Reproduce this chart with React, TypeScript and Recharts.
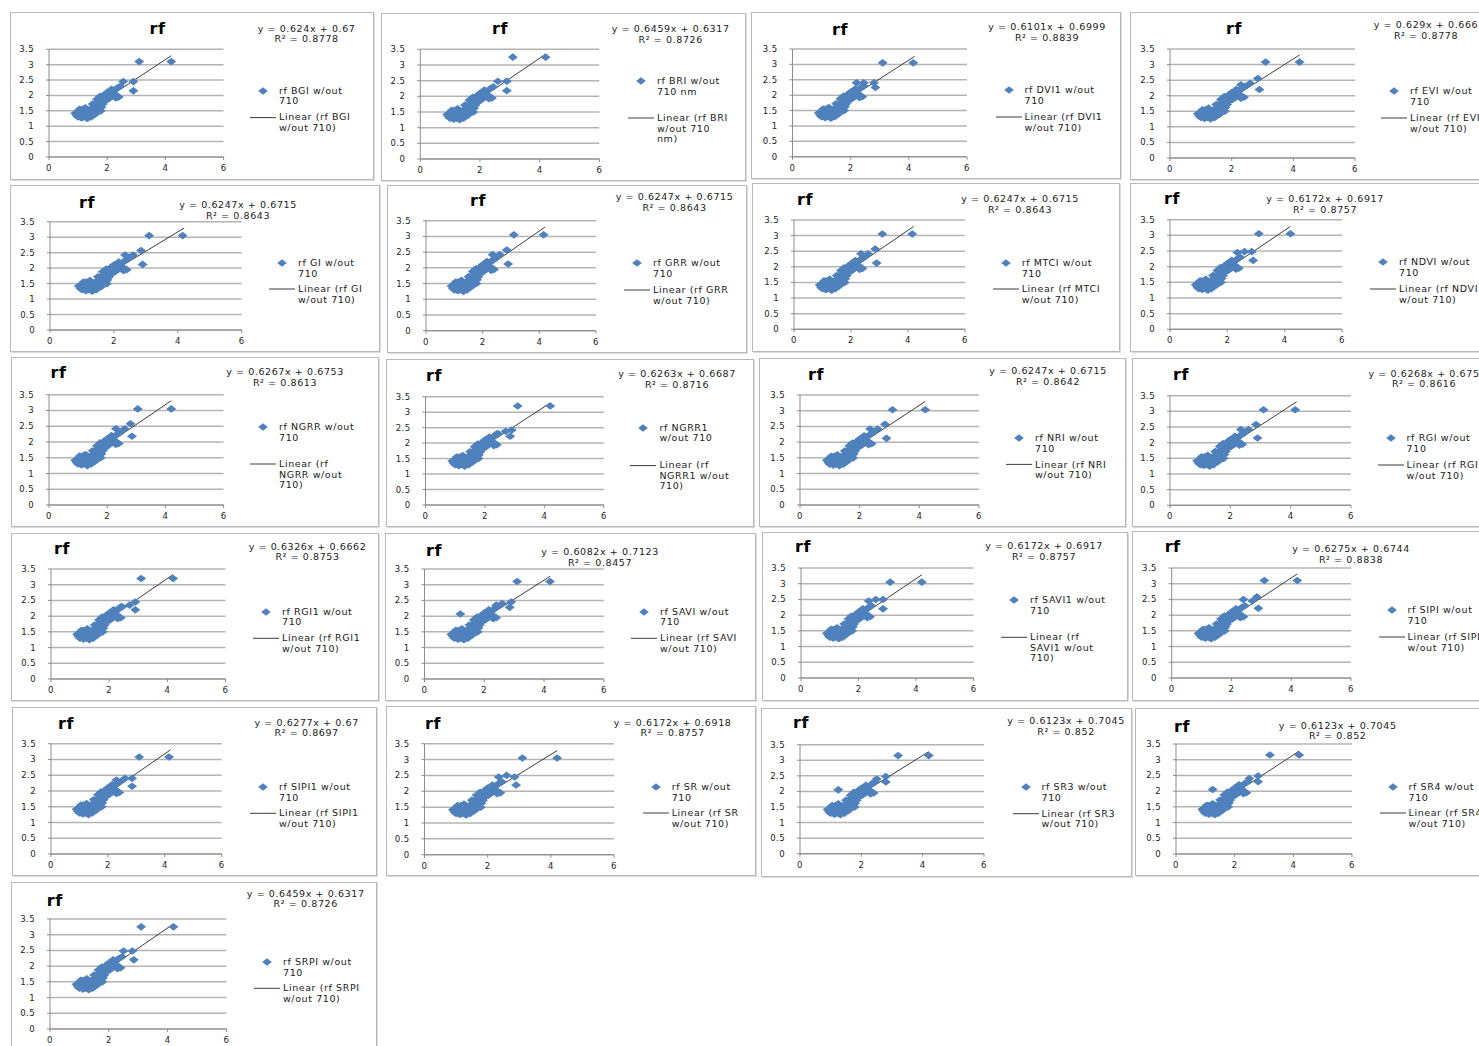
import { CartesianGrid, ReferenceLine, Scatter, ScatterChart, XAxis, YAxis } from 'recharts';

// index names, one per panel
const indexNames = [
  'BGI', 'BRI', 'DVI1', 'EVI', 'GI', 'GRR', 'MTCI', 'NDVI', 'NGRR', 'NGRR1', 'NRI',
  'RGI', 'RGI1', 'SAVI', 'SAVI1', 'SIPI', 'SIPI1', 'SR', 'SR3', 'SR4', 'SRPI',
];

// trendline equations shown on each panel
const slopes = [
  0.624, 0.6459, 0.6101, 0.629, 0.6247, 0.6247, 0.6247, 0.6172, 0.6267, 0.6263, 0.6247,
  0.6268, 0.6326, 0.6082, 0.6172, 0.6275, 0.6277, 0.6172, 0.6123, 0.6123, 0.6459,
];
const intercepts = [
  0.67, 0.6317, 0.6999, 0.666, 0.6715, 0.6715, 0.6715, 0.6917, 0.6753, 0.6687, 0.6715,
  0.675, 0.6662, 0.7123, 0.6917, 0.6744, 0.67, 0.6918, 0.7045, 0.7045, 0.6317,
];
const rSquared = [
  0.8778, 0.8726, 0.8839, 0.8778, 0.8643, 0.8643, 0.8643, 0.8757, 0.8613, 0.8716, 0.8642,
  0.8616, 0.8753, 0.8457, 0.8757, 0.8838, 0.8697, 0.8757, 0.852, 0.852, 0.8726,
];

// trendline spans the x range of the data
const trendRange = [1.0, 4.2];

// the dense cluster, roughly the same on every panel
const basePoints = [
  [0.9, 1.42], [0.95, 1.35], [1.0, 1.3], [1.02, 1.47], [1.05, 1.55], [1.08, 1.38],
  [1.12, 1.27], [1.15, 1.33], [1.15, 1.55], [1.18, 1.42], [1.22, 1.3], [1.25, 1.6],
  [1.28, 1.45], [1.3, 1.55], [1.32, 1.25], [1.35, 1.37], [1.38, 1.45], [1.4, 1.52],
  [1.45, 1.3], [1.48, 1.45], [1.5, 1.72], [1.52, 1.62], [1.55, 1.5], [1.6, 1.4],
  [1.62, 1.7], [1.65, 1.88], [1.66, 1.58], [1.7, 1.8], [1.72, 1.65], [1.76, 1.97],
  [1.78, 1.5], [1.8, 1.62], [1.82, 1.88], [1.85, 1.72], [1.9, 2.02], [1.92, 1.82],
  [1.96, 1.95], [2.0, 2.1], [2.0, 1.98], [2.03, 1.88], [2.08, 2.05], [2.12, 1.95],
  [2.15, 2.2], [2.18, 2.0], [2.22, 2.15], [2.25, 2.05], [2.3, 1.92], [2.35, 2.25],
  [2.4, 1.95], [2.45, 2.3],
];

// the points that differ between panels
const extraPoints = [
  [[2.55, 2.45], [2.9, 2.45], [2.9, 2.15], [3.1, 3.1], [4.2, 3.1]],
  [[2.6, 2.48], [2.9, 2.48], [2.9, 2.18], [3.1, 3.25], [4.2, 3.25]],
  [[2.2, 2.4], [2.45, 2.4], [2.8, 2.4], [2.85, 2.25], [3.1, 3.05], [4.15, 3.05]],
  [[2.3, 2.35], [2.6, 2.4], [2.85, 2.55], [2.9, 2.2], [3.1, 3.08], [4.2, 3.08]],
  [[2.35, 2.42], [2.6, 2.42], [2.85, 2.57], [2.9, 2.12], [3.1, 3.05], [4.15, 3.05]],
  [[2.35, 2.42], [2.6, 2.42], [2.85, 2.57], [2.9, 2.12], [3.1, 3.05], [4.15, 3.05]],
  [[2.35, 2.42], [2.6, 2.42], [2.85, 2.57], [2.9, 2.12], [3.1, 3.05], [4.15, 3.05]],
  [[2.35, 2.45], [2.6, 2.48], [2.85, 2.48], [2.9, 2.2], [3.1, 3.05], [4.2, 3.05]],
  [[2.3, 2.42], [2.6, 2.42], [2.8, 2.58], [2.85, 2.18], [3.05, 3.05], [4.2, 3.05]],
  [[2.4, 2.3], [2.7, 2.38], [2.9, 2.42], [2.85, 2.22], [3.1, 3.2], [4.2, 3.2]],
  [[2.35, 2.42], [2.6, 2.42], [2.85, 2.57], [2.9, 2.12], [3.1, 3.03], [4.2, 3.03]],
  [[2.35, 2.42], [2.6, 2.42], [2.85, 2.58], [2.9, 2.15], [3.1, 3.05], [4.15, 3.05]],
  [[2.4, 2.3], [2.7, 2.35], [2.9, 2.45], [2.9, 2.2], [3.1, 3.2], [4.2, 3.2]],
  [[1.2, 2.07], [2.4, 2.35], [2.6, 2.4], [2.9, 2.45], [2.85, 2.28], [3.1, 3.1], [4.2, 3.1]],
  [[2.35, 2.45], [2.6, 2.5], [2.85, 2.5], [2.85, 2.2], [3.1, 3.05], [4.2, 3.05]],
  [[2.4, 2.5], [2.7, 2.45], [2.85, 2.58], [2.9, 2.22], [3.1, 3.1], [4.2, 3.1]],
  [[2.3, 2.35], [2.6, 2.4], [2.85, 2.4], [2.85, 2.15], [3.1, 3.08], [4.15, 3.08]],
  [[2.35, 2.45], [2.6, 2.5], [2.85, 2.45], [2.9, 2.2], [3.1, 3.05], [4.2, 3.05]],
  [[1.25, 2.05], [2.5, 2.4], [2.8, 2.48], [2.8, 2.3], [3.2, 3.15], [4.2, 3.15]],
  [[1.25, 2.05], [2.5, 2.4], [2.8, 2.48], [2.8, 2.3], [3.2, 3.15], [4.2, 3.15]],
  [[2.5, 2.48], [2.8, 2.48], [2.85, 2.2], [3.1, 3.25], [4.2, 3.25]],
];

// legend text, wrapped as in the picture
const seriesLines = [
  ['rf  BGI w/out', '710'], ['rf BRI w/out', '710 nm'], ['rf DVI1 w/out', '710'],
  ['rf EVI w/out', '710'], ['rf GI w/out', '710'], ['rf GRR w/out', '710'],
  ['rf MTCI w/out', '710'], ['rf NDVI w/out', '710'], ['rf NGRR w/out', '710'],
  ['rf NGRR1', 'w/out 710'], ['rf NRI w/out', '710'], ['rf RGI w/out', '710'],
  ['rf RGI1 w/out', '710'], ['rf SAVI w/out', '710'], ['rf SAVI1 w/out', '710'],
  ['rf SIPI w/out', '710'], ['rf SIPI1 w/out', '710'], ['rf SR w/out', '710'],
  ['rf SR3 w/out', '710'], ['rf SR4 w/out', '710'], ['rf SRPI w/out', '710'],
];
const trendLines = [
  ['Linear (rf  BGI', 'w/out 710)'], ['Linear (rf BRI', 'w/out 710', 'nm)'],
  ['Linear (rf DVI1', 'w/out 710)'], ['Linear (rf EVI', 'w/out 710)'],
  ['Linear (rf GI', 'w/out 710)'], ['Linear (rf GRR', 'w/out 710)'],
  ['Linear (rf MTCI', 'w/out 710)'], ['Linear (rf NDVI', 'w/out 710)'],
  ['Linear (rf', 'NGRR w/out', '710)'], ['Linear (rf', 'NGRR1 w/out', '710)'],
  ['Linear (rf NRI', 'w/out 710)'], ['Linear (rf RGI', 'w/out 710)'],
  ['Linear (rf RGI1', 'w/out 710)'], ['Linear (rf SAVI', 'w/out 710)'],
  ['Linear (rf', 'SAVI1 w/out', '710)'], ['Linear (rf SIPI', 'w/out 710)'],
  ['Linear (rf SIPI1', 'w/out 710)'], ['Linear (rf SR', 'w/out 710)'],
  ['Linear (rf SR3', 'w/out 710)'], ['Linear (rf SR4', 'w/out 710)'],
  ['Linear (rf SRPI', 'w/out 710)'],
];

const xTicks = [0, 2, 4, 6];
const yTicks = [0, 0.5, 1, 1.5, 2, 2.5, 3, 3.5];

// page layout of each panel (pixels)
// box: left, top, right, bottom ; plot: x of 0, x of 6, y of 3.5, y of 0
const boxes = [
  [10, 12, 374, 180], [381, 13, 746, 181], [751, 12, 1121, 179], [1130, 12, 1500, 180],
  [10, 185, 380, 352], [387, 185, 747, 353], [752, 183, 1120, 352], [1130, 183, 1500, 352],
  [11, 357, 379, 527], [386, 359, 754, 527], [759, 358, 1126, 527], [1132, 358, 1500, 527],
  [11, 533, 379, 701], [385, 533, 756, 701], [762, 532, 1128, 701], [1132, 531, 1500, 701],
  [12, 707, 377, 876], [386, 706, 756, 876], [761, 708, 1132, 877], [1135, 708, 1500, 876],
  [11, 882, 377, 1056],
];
const plots = [
  [49, 223.6, 49.3, 157], [420.3, 599.3, 49.3, 159], [792.5, 967, 49, 156.7], [1170, 1355, 49, 158],
  [50, 241.7, 221.7, 330], [426, 596, 220.7, 330.7], [794, 965, 220, 329.3], [1170, 1342, 219.7, 329.3],
  [49, 223.6, 394.7, 505], [425.5, 603.8, 396.7, 505], [800, 979, 395, 505], [1170, 1351, 395.7, 505.3],
  [51, 225.5, 569, 679], [424.5, 603.8, 569, 679], [801, 973.6, 568, 678], [1171.7, 1351, 568, 678],
  [51, 221.7, 743.7, 854], [424.5, 614, 743.7, 854.7], [800, 984, 744.7, 853.7], [1176, 1352, 744, 854],
  [50, 226.4, 919, 1029],
];
// title centre
const titlePos = [
  [157.5, 28.5], [500, 29], [840, 30], [1234, 29], [87, 203], [478, 201], [805, 200], [1172, 199],
  [58.5, 372.7], [434, 376], [816, 375], [1181, 374.7], [62, 549], [434, 550.7], [803, 546.7],
  [1172.6, 547], [66, 724.3], [433, 724], [801, 723], [1182, 726.7], [54.7, 900.7],
];
// equation centre x, first line y
const eqPos = [
  [306.6, 28.5], [670.7, 29], [1047, 27], [1426, 25], [238, 205], [674.5, 197], [1020, 199],
  [1325, 199], [285, 372], [677, 374.3], [1048, 371.3], [1424, 373.7], [307.5, 546.7],
  [600, 552.3], [1044, 546], [1351, 549], [306.6, 722.7], [672.6, 722.7], [1066, 721.3],
  [1337.7, 725.7], [305.7, 893.7],
];
// legend text x, series first line y, trend first line y
const legendPos = [
  [279, 90.7, 117.3], [657, 81, 118], [1024.5, 90, 117], [1410, 91, 118],
  [298, 263, 289], [653, 263, 290], [1021.7, 263, 289], [1399, 262, 289],
  [279, 427, 464], [659.4, 427.7, 465.3], [1035, 438.3, 464.7], [1406.6, 438, 465],
  [282, 611.7, 638], [660, 611.7, 638], [1030, 600, 637.3], [1407.5, 610, 637],
  [279, 787, 813.3], [671.7, 787, 813], [1041.5, 787, 813.7], [1408.5, 787, 813],
  [283, 962, 988.3],
];

const BLUE = '#4f81bd';
const FONT = "'DejaVu Sans', Verdana, sans-serif";
const LINE_H = 10.5;

const textStyle: React.CSSProperties = {
  position: 'absolute',
  fontFamily: FONT,
  fontSize: 9.5,
  letterSpacing: 0.6,
  lineHeight: 1,
  whiteSpace: 'nowrap',
  color: '#1a1a1a',
};

const Diamond = (props: any) => {
  const { cx, cy } = props;
  if (cx == null || cy == null) return null;
  return (
    <path
      d={`M${cx},${cy - 3.8}L${cx + 5},${cy}L${cx},${cy + 3.8}L${cx - 5},${cy}Z`}
      fill={BLUE}
    />
  );
};

const Panel = ({ i }: { i: number }) => {
  const [left, top, right, bottom] = boxes[i];
  const [x0, x6, y35, y0] = plots[i];
  const [tx, ty] = titlePos[i];
  const [ex, ey] = eqPos[i];
  const [lx, sy, ly] = legendPos[i];
  const data = [...basePoints, ...extraPoints[i]].map(([x, y]) => ({ x, y }));
  const a = slopes[i];
  const b = intercepts[i];

  return (
    <>
      <div
        style={{
          position: 'absolute',
          left,
          top,
          width: right - left,
          height: bottom - top,
          boxSizing: 'border-box',
          border: '1px solid #b9b9b9',
          boxShadow: '1px 1px 0 #dcdcdc',
        }}
      />
      <div style={{ position: 'absolute', left, top }}>
        <ScatterChart
          width={right - left}
          height={bottom - top}
          margin={{ top: y35 - top, right: right - x6, bottom: 0, left: 0 }}
        >
          <CartesianGrid horizontal vertical={false} stroke='#b4b4b4' strokeWidth={1.5} />
          <XAxis
            type='number'
            dataKey='x'
            domain={[0, 6]}
            ticks={xTicks}
            interval={0}
            height={bottom - y0}
            tickSize={3}
            tickMargin={5}
            axisLine={{ stroke: '#8c8c8c' }}
            tickLine={{ stroke: '#8c8c8c' }}
            tick={{ fontSize: 8.5, fill: '#222', fontFamily: FONT, letterSpacing: 0.4 }}
          />
          <YAxis
            type='number'
            dataKey='y'
            domain={[0, 3.5]}
            ticks={yTicks}
            interval={0}
            width={x0 - left}
            tickSize={3}
            tickMargin={12}
            axisLine={{ stroke: '#8c8c8c' }}
            tickLine={{ stroke: '#8c8c8c' }}
            tick={{ fontSize: 8.5, fill: '#222', fontFamily: FONT, letterSpacing: 0.4 }}
          />
          <Scatter data={data} shape={Diamond} isAnimationActive={false} />
          <ReferenceLine
            segment={[
              { x: trendRange[0], y: a * trendRange[0] + b },
              { x: trendRange[1], y: a * trendRange[1] + b },
            ]}
            stroke='#3c3c3c'
            strokeWidth={1}
            ifOverflow='visible'
          />
        </ScatterChart>
      </div>

      <div
        style={{
          ...textStyle,
          left: tx,
          top: ty,
          transform: 'translate(-50%, -50%)',
          fontSize: 16,
          fontWeight: 'bold',
          letterSpacing: 0.5,
          color: '#000',
        }}
      >
        rf
      </div>

      <div style={{ ...textStyle, left: ex, top: ey, transform: 'translate(-50%, -50%)' }}>
        {`y = ${a}x + ${b}`}
      </div>
      <div style={{ ...textStyle, left: ex, top: ey + LINE_H, transform: 'translate(-50%, -50%)' }}>
        {`R² = ${rSquared[i]}`}
      </div>

      <svg
        style={{ position: 'absolute', left: lx - 30, top: sy - 5, overflow: 'visible' }}
        width={30}
        height={ly - sy + 10}
      >
        <path d={`M14,1.2L18.8,5L14,8.8L9.2,5Z`} fill={BLUE} />
        <line x1={1} y1={ly - sy + 5} x2={27} y2={ly - sy + 5} stroke='#3c3c3c' strokeWidth={1} />
      </svg>
      {seriesLines[i].map((t, k) => (
        <div key={'s' + k} style={{ ...textStyle, left: lx, top: sy + k * LINE_H, transform: 'translateY(-50%)' }}>
          {t}
        </div>
      ))}
      {trendLines[i].map((t, k) => (
        <div key={'t' + k} style={{ ...textStyle, left: lx, top: ly + k * LINE_H, transform: 'translateY(-50%)' }}>
          {t}
        </div>
      ))}
    </>
  );
};

const App = () => (
  <div
    style={{
      position: 'absolute',
      left: 0,
      top: 0,
      width: 1479,
      height: 1046,
      overflow: 'hidden',
      background: '#fff',
    }}
  >
    {indexNames.map((name, i) => (
      <Panel key={name} i={i} />
    ))}
  </div>
);

export default App;
